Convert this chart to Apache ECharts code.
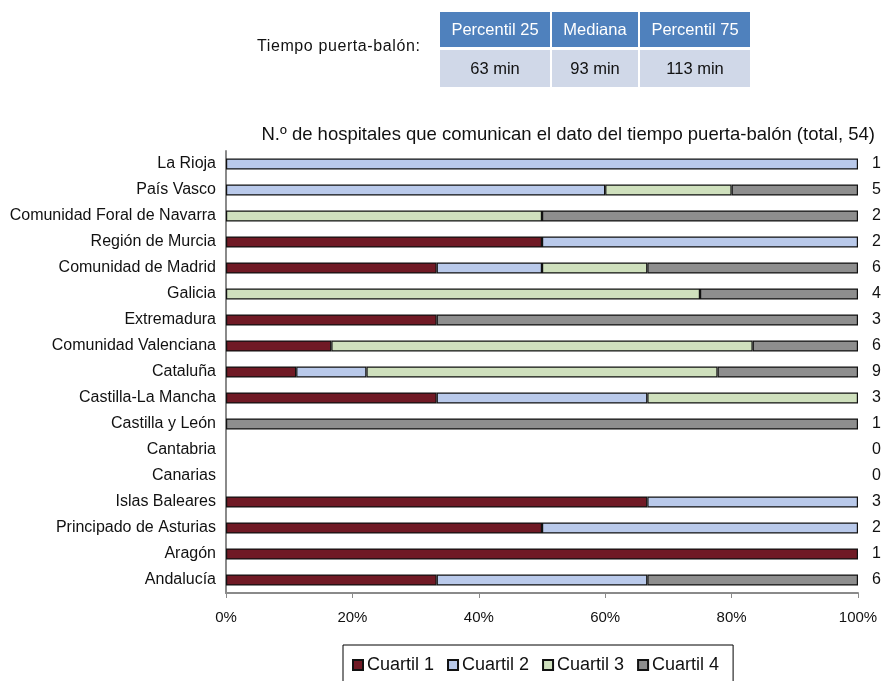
<!DOCTYPE html>
<html>
<head>
<meta charset="utf-8">
<script src="https://cdn.jsdelivr.net/npm/echarts@6/dist/echarts.min.js"></script>
<style>
  body { margin: 0; background: #fff; font-family: "Liberation Sans", Arial, sans-serif; }
  #wrap { position: relative; width: 882px; height: 681px; overflow: hidden; }
  #chart { position: absolute; left: 0; top: 0; width: 882px; height: 681px; }
  .lead { position: absolute; left: 257px; top: 37px; font-size: 16px; letter-spacing: 0.6px; color: #111; }
  table.stats { position: absolute; left: 438px; top: 9px; border-collapse: separate; border-spacing: 2px 3px; font-size: 16.5px; }
  table.stats th { background: #4f81bd; color: #fff; font-weight: normal; height: 35px; padding: 0; }
  table.stats td { background: #d0d8e8; color: #111; text-align: center; height: 35px; }
</style>
</head>
<body>
<div id="wrap">
  <div id="chart"></div>
  <div class="lead">Tiempo puerta-balón:</div>
  <table class="stats" id="stats"></table>
</div>
<script>
// tabla de percentiles
var statHeaders = ["Percentil 25", "Mediana", "Percentil 75"];
var statValues = ["63 min", "93 min", "113 min"];
var statWidths = [110, 86, 110];

// comunidades (de arriba a abajo)
var regions = ["La Rioja", "País Vasco", "Comunidad Foral de Navarra", "Región de Murcia",
  "Comunidad de Madrid", "Galicia", "Extremadura", "Comunidad Valenciana", "Cataluña",
  "Castilla-La Mancha", "Castilla y León", "Cantabria", "Canarias", "Islas Baleares",
  "Principado de Asturias", "Aragón", "Andalucía"];
// nº de hospitales por cuartil
var q1 = [0, 0, 0, 1, 2, 0, 1, 1, 1, 1, 0, 0, 0, 2, 1, 1, 2];
var q2 = [1, 3, 0, 1, 1, 0, 0, 0, 1, 1, 0, 0, 0, 1, 1, 0, 2];
var q3 = [0, 1, 1, 0, 1, 3, 0, 4, 5, 1, 0, 0, 0, 0, 0, 0, 0];
var q4 = [0, 1, 1, 0, 2, 1, 2, 1, 2, 0, 1, 0, 0, 0, 0, 0, 2];
var totals = [1, 5, 2, 2, 6, 4, 3, 6, 9, 3, 1, 0, 0, 3, 2, 1, 6];
var quartileNames = ["Cuartil 1", "Cuartil 2", "Cuartil 3", "Cuartil 4"];
var xTicks = [0, 20, 40, 60, 80, 100];

var h = "<tr>", v = "<tr>";
statHeaders.forEach(function (t, i) {
  h += '<th style="width:' + statWidths[i] + 'px">' + t + "</th>";
  v += "<td>" + statValues[i] + "</td>";
});
document.getElementById("stats").innerHTML = h + "</tr>" + v + "</tr>";

var colors = ["#701a25", "#b9c9ea", "#cfe0bd", "#8e8e8e"];
var counts = [q1, q2, q3, q4];

function pct(arr) {
  return arr.map(function (c, i) {
    return c ? (c / totals[i]) * 100 : "-";
  });
}

var chart = echarts.init(document.getElementById("chart"));
var font = "Liberation Sans";

chart.setOption({
  animation: false,
  textStyle: { fontFamily: font },
  title: {
    text: "N.º de hospitales que comunican el dato del tiempo puerta-balón (total, 54)",
    right: 2,
    top: 120,
    textStyle: { fontFamily: font, fontSize: 18.5, fontWeight: "normal", color: "#111" }
  },
  grid: { left: 226, right: 24, top: 151, bottom: 88, outerBoundsMode: "none" },
  legend: {
    data: quartileNames,
    left: 343,
    top: 645,
    icon: "rect",
    itemWidth: 10,
    itemHeight: 10,
    itemGap: 13,
    padding: [11, 14, 14, 9],
    borderColor: "#000",
    borderWidth: 1,
    textStyle: { fontFamily: font, fontSize: 18, color: "#111", padding: [0, 0, 0, -1] }
  },
  xAxis: {
    type: "value",
    min: 0,
    max: 100,
    interval: 20,
    axisLine: { show: true, lineStyle: { color: "#8a8a8a", width: 2 } },
    axisTick: { show: true, length: 5, lineStyle: { color: "#8a8a8a" } },
    splitLine: { show: false },
    axisLabel: {
      margin: 17,
      fontSize: 15,
      color: "#111",
      fontFamily: font,
      formatter: function (val) { return xTicks.indexOf(val) >= 0 ? val + "%" : ""; }
    }
  },
  yAxis: [
    {
      type: "category",
      data: regions,
      inverse: true,
      axisLine: { lineStyle: { color: "#8a8a8a", width: 2 } },
      axisTick: { length: 6, lineStyle: { color: "#8a8a8a" } },
      axisLabel: { fontSize: 16, color: "#111", fontFamily: font, margin: 10 }
    },
    {
      type: "category",
      data: totals.map(String),
      inverse: true,
      position: "right",
      axisLine: { show: false },
      axisTick: { show: false },
      axisLabel: { fontSize: 16, color: "#111", fontFamily: font, margin: 14 }
    }
  ],
  series: counts.map(function (arr, k) {
    return {
      name: quartileNames[k],
      type: "bar",
      stack: "total",
      barWidth: 11,
      data: pct(arr),
      itemStyle: { color: colors[k], borderColor: "#111", borderWidth: 1.2 }
    };
  })
});
</script>
</body>
</html>
